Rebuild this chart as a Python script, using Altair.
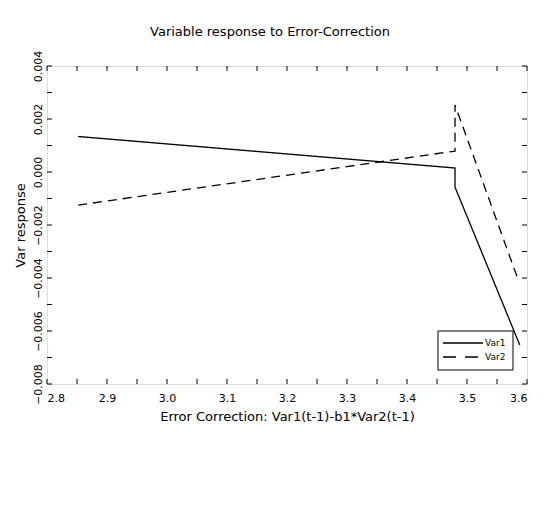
import altair as alt
import pandas as pd

# Series
x_var1 = [2.852, 3.480, 3.480, 3.588]
y_var1 = [0.00134, 0.00015, -0.00057, -0.00653]
x_var2 = [2.852, 3.480, 3.480, 3.585]
y_var2 = [-0.00125, 0.00079, 0.00253, -0.00405]
series_names = ["Var1", "Var2"]

# Axis ticks
x_labels = [2.8, 2.9, 3.0, 3.1, 3.2, 3.3, 3.4, 3.5, 3.6]
x_ticks = [2.8, 2.85, 2.9, 2.95, 3.0, 3.05, 3.1, 3.15, 3.2, 3.25, 3.3, 3.35,
           3.4, 3.45, 3.5, 3.55, 3.6]
y_labels = [-0.008, -0.006, -0.004, -0.002, 0.0, 0.002, 0.004]
y_ticks = [-0.008, -0.007, -0.006, -0.005, -0.004, -0.003, -0.002, -0.001,
           0.0, 0.001, 0.002, 0.003, 0.004]

W, H = 480, 318
FONT = "DejaVu Sans"
DASH = [9, 6]

rows = []
for i, (a, b) in enumerate(zip(x_var1, y_var1)):
    rows.append({"x": a, "y": b, "series": series_names[0], "o": i})
for i, (a, b) in enumerate(zip(x_var2, y_var2)):
    rows.append({"x": a, "y": b, "series": series_names[1], "o": i})
df = pd.DataFrame(rows)

xscale = alt.Scale(domain=[2.8, 3.6], nice=False, zero=False)
yscale = alt.Scale(domain=[-0.008, 0.004], nice=False, zero=False)

x_axis = alt.Axis(values=x_labels, format=".1f", ticks=False, domain=False, grid=False,
                  labelFontSize=11, labelFont=FONT, labelPadding=8, labelColor="black",
                  title="Error Correction: Var1(t-1)-b1*Var2(t-1)", titleFont=FONT,
                  titleFontSize=13, titleFontWeight="normal", titlePadding=7,
                  titleColor="black")
y_axis = alt.Axis(values=y_labels, format=".3f", ticks=False, domain=False, grid=False,
                  labelAngle=-90, labelAlign="center", labelBaseline="bottom",
                  labelFontSize=11, labelFont=FONT, labelPadding=4, labelColor="black",
                  title="Var response", titleFont=FONT, titleFontSize=13,
                  titleFontWeight="normal", titlePadding=5, titleColor="black")

lines = alt.Chart(df).mark_line(color="black", strokeWidth=1.3).encode(
    x=alt.X("x:Q", scale=xscale, axis=x_axis),
    y=alt.Y("y:Q", scale=yscale, axis=y_axis),
    order="o:Q",
    strokeDash=alt.StrokeDash(
        "series:N",
        scale=alt.Scale(domain=series_names, range=[[1, 0], DASH]),
        legend=None,
    ),
)

xt = pd.DataFrame({"xt": x_ticks})
yt = pd.DataFrame({"yt": y_ticks})
TL = 5

xb = alt.Chart(xt).mark_rule(color="black").encode(
    x=alt.X("xt:Q", scale=xscale, axis=x_axis), y=alt.value(H), y2=alt.value(H - TL))
xtop = alt.Chart(xt).mark_rule(color="black").encode(
    x=alt.X("xt:Q", scale=xscale, axis=x_axis), y=alt.value(0), y2=alt.value(TL))
yl = alt.Chart(yt).mark_rule(color="black").encode(
    y=alt.Y("yt:Q", scale=yscale, axis=y_axis), x=alt.value(0), x2=alt.value(TL))
yr = alt.Chart(yt).mark_rule(color="black").encode(
    y=alt.Y("yt:Q", scale=yscale, axis=y_axis), x=alt.value(W), x2=alt.value(W - TL))

# Manual legend box (pixel layout inside the plot area)
leg = pd.DataFrame({"name": series_names})
LX0, LX1, LY0, LY1 = 391, 466, 265, 304
box = alt.Chart(leg.head(1)).mark_rect(fill="white", stroke="black", strokeWidth=1).encode(
    x=alt.value(LX0), x2=alt.value(LX1), y=alt.value(LY0), y2=alt.value(LY1))
leg1 = alt.Chart(leg.head(1)).mark_rule(color="black", strokeWidth=1.3).encode(
    x=alt.value(396), x2=alt.value(436), y=alt.value(277))
leg2 = alt.Chart(leg.head(1)).mark_rule(color="black", strokeWidth=1.3,
                                        strokeDash=[13, 9]).encode(
    x=alt.value(396), x2=alt.value(436), y=alt.value(291))
txt1 = alt.Chart(leg.iloc[[0]]).mark_text(align="left", baseline="middle", font=FONT,
                                          fontSize=9, color="black").encode(
    x=alt.value(438), y=alt.value(277), text="name:N")
txt2 = alt.Chart(leg.iloc[[1]]).mark_text(align="left", baseline="middle", font=FONT,
                                          fontSize=9, color="black").encode(
    x=alt.value(438), y=alt.value(291), text="name:N")

chart = alt.layer(box, xb, xtop, yl, yr, lines, leg1, leg2, txt1, txt2).properties(
    width=W, height=H,
    title=alt.TitleParams("Variable response to Error-Correction", font=FONT,
                          fontSize=13, fontWeight="normal", color="black",
                          anchor="middle", dx=-17, offset=11),
    autosize=alt.AutoSizeParams(type="none"),
    padding={"left": 39, "top": 58, "right": 20, "bottom": 100},
).configure_view(stroke="black", strokeWidth=2).configure(background="white")

chart.save("out.html", embed_options={"renderer": "svg", "actions": False})
